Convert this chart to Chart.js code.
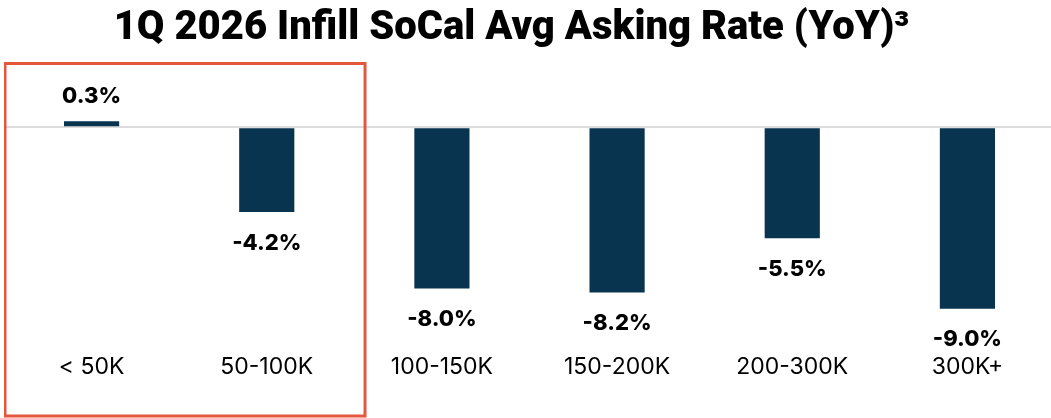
<!DOCTYPE html>
<html>
<head>
<meta charset="utf-8">
<script src="https://cdn.jsdelivr.net/npm/chart.js@4"></script>
<style>
  html, body { margin: 0; padding: 0; background: #fff; overflow: hidden; width: 1051px; height: 418px; }
  #chart { display: block; position: relative; left: 4px; }
</style>
</head>
<body>
<canvas id="chart" width="1051" height="418"></canvas>
<script>
const categories = ["< 50K", "50-100K", "100-150K", "150-200K", "200-300K", "300K+"];
const yoyChange = [0.3, -4.2, -8.0, -8.2, -5.5, -9.0];
const titleText = "1Q 2026 Infill SoCal Avg Asking Rate (YoY)\u00B3";

const barColor = "#08344f";

// title, drawn a bit left of centre like the original
const chartTitle = {
  id: "chartTitle",
  afterDraw(chart) {
    const ctx = chart.ctx;
    ctx.save();
    ctx.fillStyle = "#000";
    ctx.font = "900 40px Roboto";
    ctx.textAlign = "center";
    ctx.textBaseline = "alphabetic";
    ctx.fillText(titleText, chart.width / 2 - 18, 39);
    ctx.restore();
  },
};

// value labels above / below each bar
const valueLabels = {
  id: "valueLabels",
  afterDatasetsDraw(chart) {
    const ctx = chart.ctx;
    const meta = chart.getDatasetMeta(0);
    ctx.save();
    ctx.fillStyle = "#000";
    ctx.font = "800 22px Inter";
    ctx.textAlign = "center";
    ctx.textBaseline = "middle";
    meta.data.forEach((bar, i) => {
      const v = yoyChange[i];
      const y = v >= 0 ? bar.y - 25 : bar.y + 31;
      ctx.fillText(v.toFixed(1) + "%", bar.x, y);
    });
    ctx.restore();
  },
};

// orange box round the first two categories
const highlightBox = {
  id: "highlightBox",
  afterDraw(chart) {
    const x = chart.scales.x;
    const step = x.getPixelForValue(1) - x.getPixelForValue(0);
    const left = x.getPixelForValue(0) - step / 2 + 1;
    const right = x.getPixelForValue(1) + step * 0.561;
    const ctx = chart.ctx;
    ctx.save();
    ctx.strokeStyle = "#e4573d";
    ctx.lineWidth = 3;
    ctx.strokeRect(left, 63.5, right - left, 352.5);
    ctx.restore();
  },
};

new Chart(document.querySelector("#chart").getContext("2d"), {
  type: "bar",
  data: {
    labels: categories,
    datasets: [
      {
        label: "YoY",
        data: yoyChange,
        backgroundColor: barColor,
        barPercentage: 1,
        categoryPercentage: 0.315,
      },
    ],
  },
  options: {
    responsive: false,
    animation: false,
    layout: { padding: { left: 0, right: 0, top: 77, bottom: 31.4 } },
    plugins: {
      legend: { display: false },
      tooltip: { enabled: false },
      title: { display: false },
    },
    scales: {
      x: {
        grid: { display: false, drawTicks: false },
        border: { display: false },
        ticks: {
          color: "#000",
          font: { family: "Inter", size: 23 },
          padding: 6,
        },
      },
      y: {
        display: true,
        min: -10.9,
        max: 2.5,
        border: { display: false },
        ticks: { display: false, stepSize: 0.1 },
        grid: {
          drawTicks: false,
          lineWidth: 2,
          color: (c) => (c.tick && Math.abs(c.tick.value) < 1e-9 ? "#dcdcdc" : "rgba(0,0,0,0)"),
        },
      },
    },
  },
  plugins: [valueLabels, highlightBox, chartTitle],
});
</script>
</body>
</html>
